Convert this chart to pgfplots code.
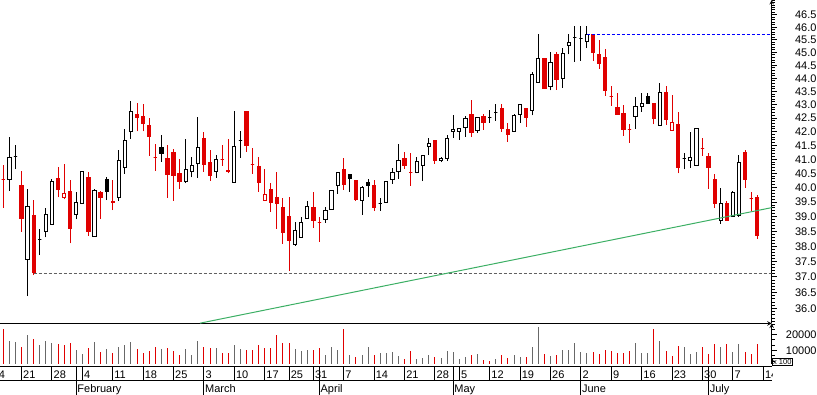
\documentclass[border=0pt]{standalone}
\usepackage{fontspec}
\setmainfont{Liberation Sans}
\usepackage{pgfplots}
\usepackage{pgfplotstable}
\pgfplotsset{compat=1.18}
\definecolor{cred}{RGB}{224,0,0}
\definecolor{cvol}{RGB}{104,104,104}
\definecolor{cgreen}{RGB}{60,175,100}
\definecolor{cdash}{RGB}{96,96,96}

\pgfplotstableread{
i o h l c t r v
0 40.29 40.80 39.31 40.29 1 1 23600
1 40.29 41.80 39.89 41.07 0 0 15800
2 41.08 41.51 40.65 41.08 2 0 15400
3 40.06 40.58 38.49 38.93 1 1 12200
4 37.57 39.95 36.39 39.36 0 0 19800
5 39.05 39.57 37.06 37.14 1 1 17100
6 38.23 38.58 37.71 38.23 2 0 13500
7 38.49 39.29 38.30 39.08 0 0 15800
8 38.74 40.30 38.74 40.22 0 0 14900
9 40.30 40.73 39.66 39.94 1 1 14100
10 39.68 40.83 39.59 39.80 3 1 13500
11 39.88 40.27 38.10 38.60 1 1 14700
12 39.08 39.85 38.91 39.49 0 0 10300
13 39.45 40.57 39.45 40.57 0 0 8000
14 40.36 40.55 38.35 38.49 1 1 11600
15 38.32 39.95 38.32 39.92 0 0 15400
16 39.85 39.88 38.92 39.65 1 1 9000
17 40.27 40.38 39.57 39.86 2 0 10900
18 39.53 40.27 39.22 39.49 1 1 8400
19 39.66 41.33 39.54 40.96 0 0 12200
20 40.71 42.10 40.48 41.69 0 0 13500
21 41.99 43.13 41.74 42.73 0 0 15400
22 42.62 43.06 42.01 42.53 1 1 10900
23 42.54 43.03 42.01 42.29 1 1 8400
24 42.21 42.50 41.12 41.82 1 1 9700
25 41.07 41.55 40.59 41.07 1 1 12200
26 41.43 41.88 40.91 41.20 2 0 10900
27 41.04 41.51 39.65 40.44 1 1 11600
28 41.25 41.37 39.54 40.42 1 1 9700
29 40.50 41.01 39.95 40.21 1 1 7200
30 40.21 41.73 40.15 40.64 0 0 10900
31 40.56 41.07 40.36 40.77 0 0 7200
32 40.86 42.53 40.34 41.42 0 0 16000
33 41.73 41.99 40.55 40.81 1 1 12200
34 40.90 41.33 40.24 40.42 1 1 11600
35 40.57 41.15 40.34 41.00 0 0 11600
36 40.98 41.51 40.76 40.98 1 1 8400
37 40.61 41.73 40.50 40.57 1 1 8400
38 40.19 42.76 40.19 41.47 0 0 13500
39 41.69 42.02 41.06 41.69 2 0 10900
40 42.73 42.73 41.27 41.49 1 1 10300
41 40.80 41.41 40.49 40.80 1 1 10300
42 40.73 41.08 39.86 40.17 1 1 13500
43 39.56 40.65 39.56 39.77 3 1 11600
44 39.95 40.16 39.17 39.48 1 1 11600
45 39.64 40.55 38.59 39.46 1 1 19800
46 39.33 39.64 38.09 38.46 1 1 14700
47 39.02 39.67 37.20 38.20 1 1 14700
48 38.07 38.82 38.02 38.54 0 0 10900
49 38.30 38.99 38.30 38.81 0 0 9700
50 38.94 39.53 38.94 39.35 0 0 10300
51 39.33 39.85 38.62 38.86 1 1 10300
52 38.82 38.99 38.15 38.82 1 1 11600
53 38.91 39.33 38.79 39.21 0 0 7200
54 39.25 39.92 39.25 39.92 0 0 12200
55 40.08 40.54 39.79 40.54 0 0 10300
56 40.62 41.05 39.93 40.10 1 1 23600
57 40.44 40.48 39.86 40.31 2 0 7200
58 40.24 40.27 39.54 39.58 1 1 5900
59 39.56 40.06 39.07 40.01 0 0 7200
60 40.16 40.30 39.68 40.07 2 0 12200
61 40.06 40.27 39.19 39.30 1 1 7200
62 39.44 39.64 39.20 39.44 2 0 8400
63 39.48 40.22 39.48 40.22 0 0 8400
64 40.29 40.68 40.14 40.54 0 0 9000
65 40.57 41.55 40.31 40.96 0 0 6500
66 41.04 41.26 40.66 40.77 1 1 4600
67 40.54 41.23 40.07 40.54 1 1 9700
68 40.54 41.07 40.50 40.93 0 0 4600
69 40.79 41.14 40.22 41.14 0 0 5300
70 41.47 41.77 41.15 41.55 0 0 7200
71 41.66 41.66 40.84 40.95 1 1 5900
72 40.94 41.09 40.89 41.01 0 0 5300
73 41.04 41.87 40.93 41.76 0 0 9700
74 42.00 42.62 41.78 42.09 0 0 9000
75 42.00 42.11 41.70 42.11 0 0 4600
76 42.16 42.58 41.82 42.49 0 0 5900
77 42.62 43.18 41.82 41.98 1 1 7200
78 42.04 42.53 41.94 42.53 0 0 7800
79 42.54 42.65 42.07 42.33 1 1 4000
80 42.52 42.80 42.33 42.52 2 1 3400
81 42.72 43.03 42.40 42.72 2 0 4600
82 42.84 43.03 42.00 42.11 1 1 7200
83 42.09 42.31 41.63 41.89 1 1 5300
84 42.00 42.65 42.00 42.58 0 0 7200
85 42.63 43.03 42.33 42.99 0 0 5900
86 42.84 42.88 42.18 42.53 1 1 5900
87 42.79 44.25 42.60 44.16 0 0 12200
88 43.85 45.74 43.85 44.78 0 0 24900
89 44.78 44.78 43.60 43.60 1 1 7800
90 43.70 45.01 43.54 44.62 0 0 6500
91 44.93 45.01 43.57 43.94 1 1 7200
92 44.00 45.17 43.64 44.97 0 0 10300
93 45.29 45.74 44.93 45.41 0 0 10300
94 45.59 46.06 44.64 45.59 2 0 14700
95 45.55 46.06 44.68 45.55 2 0 9000
96 45.45 46.06 45.17 45.72 0 0 8400
97 45.70 45.70 44.68 45.00 1 1 9000
98 44.94 45.49 44.37 44.57 1 1 7800
99 44.82 45.14 43.34 43.53 1 1 10300
100 43.30 43.71 42.96 43.30 1 1 9700
101 42.90 43.43 42.63 42.63 1 1 8400
102 42.65 42.98 41.85 42.07 1 1 8400
103 42.06 42.29 41.60 42.06 1 1 9700
104 42.57 43.28 42.11 42.94 0 0 14700
105 42.94 43.44 42.74 43.05 0 0 8400
106 43.32 43.44 43.06 43.06 2 0 8400
107 43.06 43.06 42.27 42.47 1 1 23600
108 42.23 43.82 42.23 43.47 0 0 16000
109 43.44 43.71 42.26 42.44 1 1 9700
110 42.05 43.37 42.05 42.35 3 1 6500
111 42.27 42.72 40.50 40.70 1 1 12900
112 41.02 41.22 40.64 41.02 2 0 12200
113 40.96 41.98 40.70 41.05 0 0 7800
114 40.79 42.12 40.79 42.12 0 0 9000
115 41.40 41.76 41.13 41.40 1 1 12200
116 41.08 41.23 39.96 40.70 1 1 7800
117 40.27 40.48 39.30 39.44 1 1 14100
118 38.86 39.99 38.77 39.46 0 0 12200
119 39.46 39.53 38.86 38.86 1 1 14100
120 39.02 39.88 39.02 39.84 0 0 9000
121 39.04 41.15 39.00 40.90 0 0 14100
122 41.23 41.33 40.00 40.28 1 1 9000
123 39.61 39.85 39.20 39.61 1 1 7800
124 39.67 39.74 38.25 38.35 1 1 14100
}\data

\begin{document}
\begin{tikzpicture}
\useasboundingbox (0pt,0pt) rectangle (817pt,395pt);
\pgfplotsset{
  every axis/.append style={
    font=\fontsize{11}{13}\selectfont,
    scale only axis, anchor=south west,
    every tick/.style={black, line width=1pt},
    axis line style={-, line width=1pt, black},
    scaled x ticks=false, scaled y ticks=false,
  }
}
% ---------------- price panel ----------------
\begin{axis}[
  at={(0pt,71.5pt)}, width=771.7pt, height=323.5pt,
  xmin=-0.5428, xmax=126.382,
  ymode=log, ymin=35.53, ymax=47.11,
  axis x line=bottom, axis y line=right,
  xtick=\empty,
  ytick={36,36.5,37,37.5,38,38.5,39,39.5,40,40.5,41,41.5,42,42.5,43,43.5,44,44.5,45,45.5,46,46.5},
  yticklabels={36.0,36.5,37.0,37.5,38.0,38.5,39.0,39.5,40.0,40.5,41.0,41.5,42.0,42.5,43.0,43.5,44.0,44.5,45.0,45.5,46.0,46.5},
  minor ytick={35.6,35.7,35.8,35.9,36.1,36.2,36.3,36.4,36.6,36.7,36.8,36.9,37.1,37.2,37.3,37.4,37.6,37.7,37.8,37.9,38.1,38.2,38.3,38.4,38.6,38.7,38.8,38.9,39.1,39.2,39.3,39.4,39.6,39.7,39.8,39.9,40.1,40.2,40.3,40.4,40.6,40.7,40.8,40.9,41.1,41.2,41.3,41.4,41.6,41.7,41.8,41.9,42.1,42.2,42.3,42.4,42.6,42.7,42.8,42.9,43.1,43.2,43.3,43.4,43.6,43.7,43.8,43.9,44.1,44.2,44.3,44.4,44.6,44.7,44.8,44.9,45.1,45.2,45.3,45.4,45.6,45.7,45.8,45.9,46.1,46.2,46.3,46.4,46.6,46.7,46.8,46.9,47.0,47.1},
  tick align=outside, major tick length=5pt, minor tick length=3pt,
  yticklabel style={anchor=east, inner sep=0pt, xshift=40pt},
]
\pgfplotstablegetrowsof{\data}
\pgfmathtruncatemacro{\N}{\pgfplotsretval-1}
\pgfplotsforeachungrouped \k in {0,...,\N}{%
  \pgfplotstablegetelem{\k}{i}\of\data \let\ci=\pgfplotsretval
  \pgfplotstablegetelem{\k}{o}\of\data \let\co=\pgfplotsretval
  \pgfplotstablegetelem{\k}{h}\of\data \let\ch=\pgfplotsretval
  \pgfplotstablegetelem{\k}{l}\of\data \let\cl=\pgfplotsretval
  \pgfplotstablegetelem{\k}{c}\of\data \let\cc=\pgfplotsretval
  \pgfplotstablegetelem{\k}{t}\of\data \let\ct=\pgfplotsretval
  \pgfmathsetmacro{\xa}{\ci-0.27}%
  \pgfmathsetmacro{\xb}{\ci+0.27}%
  \ifcase\ct\relax
    \def\cs{draw=black,fill=white}\def\ws{black}\or
    \def\cs{draw=cred,fill=cred}\def\ws{cred}\or
    \def\cs{draw=black,fill=black}\def\ws{black}\or
    \def\cs{draw=cred,fill=white}\def\ws{cred}\fi
  \edef\temp{%
    \noexpand\addplot[\ws, line width=1pt, mark=none, forget plot] coordinates {(\ci,\cl) (\ci,\ch)};
    \noexpand\addplot[\cs, line width=1pt, mark=none, forget plot] coordinates {(\xa,\co) (\xb,\co) (\xb,\cc) (\xa,\cc)} -- cycle;
  }\temp
}
\addplot[cdash, line width=1pt, dash pattern=on 3pt off 2pt, mark=none] coordinates {(5,37.12) (126.382,37.12)};
\addplot[blue, line width=1pt, dash pattern=on 3pt off 2pt, mark=none] coordinates {(96,45.72) (126.382,45.72)};
\addplot[cgreen, line width=1pt, mark=none] coordinates {(32.35,35.54) (126.382,39.31)};
\end{axis}
% ---------------- volume panel ----------------
\begin{axis}[
  at={(0pt,31pt)}, width=771.7pt, height=40.5pt,
  xmin=-0.5428, xmax=126.382,
  ymin=1456, ymax=27092,
  axis x line=bottom, x axis line style={draw=none},
  axis y line=right,
  xtick=\empty,
  ytick={10000,20000}, yticklabels={10000,20000},
  minor ytick={3333,6667,13333,16667,23333,26667},
  tick align=outside, major tick length=5pt, minor tick length=3pt,
  yticklabel style={anchor=east, inner sep=0pt, xshift=40pt},
]
\addplot[ycomb, cred, line width=1pt, mark=none] table[x=i, y expr=\thisrow{v}*\thisrow{r}] {\data};
\addplot[ycomb, cvol, line width=1pt, mark=none] table[x=i, y expr=\thisrow{v}*(1-\thisrow{r})] {\data};
\end{axis}
% ---------------- day row ----------------
\begin{axis}[
  at={(-11.9pt,14pt)}, width=783.6pt, height=14pt,
  xmin=-2.5, xmax=126.382, ymin=0, ymax=1,
  axis x line=box, axis y line=none,
  xtick={-2,3,8,13,18,23,28,33,38,43,47,51,56,61,66,71,75,80,85,90,95,100,105,110,115,120,125},
  xticklabels={14,21,28,4,11,18,25,3,10,17,25,31,7,14,21,28,5,12,19,26,2,9,16,23,30,7,14},
  xtick pos=left, tick align=inside, major tick length=14pt,
  xticklabel style={anchor=base west, inner sep=0pt, xshift=1.5pt, yshift=2.5pt},
]
\end{axis}
% ---------------- month row ----------------
\begin{axis}[
  at={(-11.9pt,0pt)}, width=783.6pt, height=28pt,
  xmin=-2.5, xmax=126.382, ymin=0, ymax=1,
  axis x line=bottom, x axis line style={draw=none}, axis y line=none,
  xtick={12,33,52,74,95,116},
  xticklabels={February,March,April,May,June,July},
  tick align=inside, major tick length=28pt,
  xticklabel style={anchor=base west, inner sep=0pt, xshift=1pt, yshift=2.5pt},
]
\end{axis}
\fill[white] (772.5pt,14.6pt) rectangle (817pt,27.4pt);
\node[draw, line width=0.8pt, anchor=south west, inner xsep=1pt, inner ysep=0.8pt,
      font=\fontsize{7.5}{8}\selectfont] at (771.7pt,29.2pt) {x 100};
\end{tikzpicture}
\end{document}
